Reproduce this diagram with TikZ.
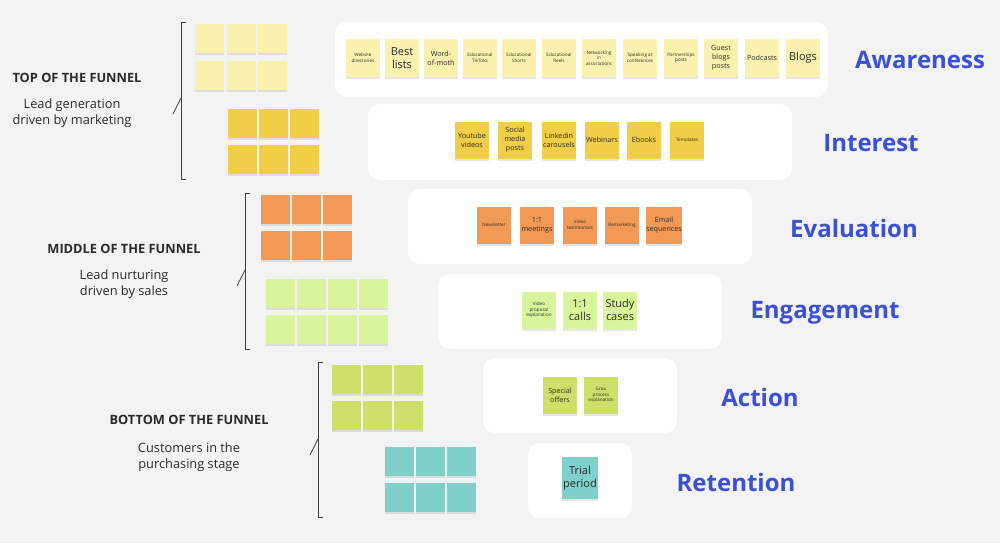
\documentclass[tikz,border=0pt]{standalone}
\usepackage{fontspec}
\setmainfont{Open Sans}
\usetikzlibrary{shadows}
\definecolor{bg}{HTML}{F3F3F3}
\definecolor{cLY}{HTML}{FAF1AE}
\definecolor{cGold}{HTML}{F2CE48}
\definecolor{cOr}{HTML}{F29A55}
\definecolor{cLG}{HTML}{D9F59C}
\definecolor{cLime}{HTML}{CEE06A}
\definecolor{cTeal}{HTML}{7FCFCA}
\definecolor{cBlue}{HTML}{3A50D6}
\definecolor{txt}{HTML}{2A2A2A}
\begin{document}
\begin{tikzpicture}[x=1pt,y=-1pt,
  note/.style={inner sep=0pt,align=center,text=txt,
    drop shadow={opacity=0.2,shadow xshift=0pt,shadow yshift=-2pt}},
  sq/.style={note,minimum width=29pt,minimum height=29pt},
  pn/.style={note,minimum width=34pt,minimum height=37pt},
  panel/.style={fill=white,rounded corners=12pt,draw=none},
  stage/.style={text=cBlue,font=\bfseries\fontsize{24}{26}\selectfont},
  head/.style={text=txt,font=\bfseries\fontsize{12.8}{14}\selectfont},
  sub/.style={text=txt,align=center,font=\fontsize{12.8}{16.5}\selectfont},
  brk/.style={draw=black!75,line width=0.8pt},
  tiny/.style={font=\fontsize{4.6}{5.6}\selectfont},
  med/.style={font=\fontsize{7.2}{9}\selectfont},
  big/.style={font=\fontsize{11}{13.5}\selectfont}]
\fill[bg] (0,0) rectangle (1000,543);
\useasboundingbox (0,0) rectangle (1000,543);
% brackets
\draw[brk] (186,22) -- (181,22) -- (181,179) -- (186,179);
\draw[brk] (173,114) -- (181,98);
\draw[brk] (250,193) -- (245,193) -- (245,349) -- (250,349);
\draw[brk] (237,286) -- (245,270);
\draw[brk] (323,362) -- (318,362) -- (318,517) -- (323,517);
\draw[brk] (310,455) -- (318,439);
% left texts
\node[head] (t1) at (77,78) {TOP OF THE FUNNEL};
\node[sub] (s1) at (72,113) {Lead generation\\driven by marketing};
\node[head] (t2) at (124,249) {MIDDLE OF THE FUNNEL};
\node[sub] (s2) at (124,284) {Lead nurturing\\driven by sales};
\node[head] (t3) at (189,420) {BOTTOM OF THE FUNNEL};
\node[sub] (s3) at (189,457) {Customers in the\\purchasing stage};
% grids
\foreach \i/\x in {1/209,2/241,3/272}\foreach \j/\y in {1/39,2/75}
  \node[sq,fill=cLY] (ga\i\j) at (\x,\y) {};
\foreach \i/\x in {1/242,2/273,3/304}\foreach \j/\y in {1/123,2/159}
  \node[sq,fill=cGold] (gb\i\j) at (\x,\y) {};
\foreach \i/\x in {1/275,2/306,3/337}\foreach \j/\y in {1/209,2/245}
  \node[sq,fill=cOr] (gc\i\j) at (\x,\y) {};
\foreach \i/\x in {1/280,2/311,3/342,4/373}\foreach \j/\y in {1/293,2/329}
  \node[sq,fill=cLG] (gd\i\j) at (\x,\y) {};
\foreach \i/\x in {1/346,2/377,3/408}\foreach \j/\y in {1/379,2/415}
  \node[sq,fill=cLime] (ge\i\j) at (\x,\y) {};
\foreach \i/\x in {1/399,2/430,3/461}\foreach \j/\y in {1/461,2/497}
  \node[sq,fill=cTeal] (gf\i\j) at (\x,\y) {};
% panels
\fill[panel] (335,22) rectangle (828,97);
\fill[panel] (368,104) rectangle (792,180);
\fill[panel] (408,189) rectangle (752,264);
\fill[panel] (438,274) rectangle (722,349);
\fill[panel] (483,358) rectangle (677,433);
\fill[panel] (528,443) rectangle (632,518);
% awareness notes
\node[pn,fill=cLY,tiny] (a1) at (363,58) {Website\\directories};
\node[pn,fill=cLY,big] (a2) at (402,58) {Best\\lists};
\node[pn,fill=cLY,med] (a3) at (441,58) {Word-\\of-moth};
\node[pn,fill=cLY,tiny] (a4) at (480,58) {Educational\\TikToks};
\node[pn,fill=cLY,tiny] (a5) at (519,58) {Educational\\Shorts};
\node[pn,fill=cLY,tiny] (a6) at (559,58) {Educational\\Reels};
\node[pn,fill=cLY,tiny] (a7) at (599,58) {Networking\\in\\associations};
\node[pn,fill=cLY,tiny] (a8) at (640,58) {Speaking at\\conferences};
\node[pn,fill=cLY,tiny] (a9) at (681,58) {Partnerships\\posts};
\node[pn,fill=cLY,med] (a10) at (721,58) {Guest\\blogs\\posts};
\node[pn,fill=cLY,med] (a11) at (762,58) {Podcasts};
\node[pn,fill=cLY,big] (a12) at (803,58) {Blogs};
% interest
\node[pn,fill=cGold,med] (b1) at (472,140) {Youtube\\videos};
\node[pn,fill=cGold,med] (b2) at (515,140) {Social\\media\\posts};
\node[pn,fill=cGold,med] (b3) at (559,140) {Linkedin\\carousels};
\node[pn,fill=cGold,med] (b4) at (602,140) {Webinars};
\node[pn,fill=cGold,med] (b5) at (644,140) {Ebooks};
\node[pn,fill=cGold,tiny] (b6) at (687,140) {Templates};
% evaluation
\node[pn,fill=cOr,tiny] (c1) at (494,225) {Newsletter};
\node[pn,fill=cOr,med] (c2) at (537,225) {1:1\\meetings};
\node[pn,fill=cOr,tiny] (c3) at (580,225) {Video\\testimonials};
\node[pn,fill=cOr,tiny] (c4) at (622,225) {Remarketing};
\node[pn,fill=cOr,med] (c5) at (664,225) {Email\\sequences};
% engagement
\node[pn,fill=cLG,tiny] (d1) at (539,310) {Video\\proposal\\explanation};
\node[pn,fill=cLG,big] (d2) at (580,310) {1:1\\calls};
\node[pn,fill=cLG,big] (d3) at (620,310) {Study\\cases};
% action
\node[pn,fill=cLime,med] (e1) at (560,395) {Special\\offers};
\node[pn,fill=cLime,tiny] (e2) at (601,395) {Grou\\process\\explanation};
% retention
\node[pn,fill=cTeal,big,minimum width=36pt,minimum height=42pt] (f1) at (580,478) {Trial\\period};
% stage labels
\node[stage] (l1) at (920,60) {Awareness};
\node[stage] (l2) at (871,143) {Interest};
\node[stage] (l3) at (854,228) {Evaluation};
\node[stage] (l4) at (825,313) {Engagement};
\node[stage] (l5) at (760,397) {Action};
\node[stage] (l6) at (736,482) {Retention};
\end{tikzpicture}
\end{document}
